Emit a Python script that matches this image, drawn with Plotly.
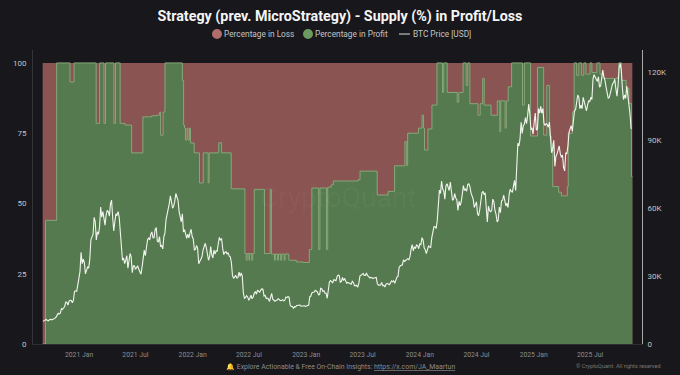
import pandas as pd
import plotly.graph_objects as go

profit_dates = ["2020-09-06","2020-09-15","2020-10-21","2020-12-03","2020-12-16","2021-02-25","2021-03-08","2021-03-22","2021-03-27","2021-04-23","2021-04-28","2021-05-13","2021-05-29","2021-06-19","2021-07-25","2021-08-22","2021-09-07","2021-09-17","2021-09-20","2021-09-28","2021-10-04","2021-11-29","2021-12-03","2021-12-06","2021-12-09","2021-12-14","2021-12-17","2021-12-22","2021-12-25","2022-01-06","2022-01-23","2022-02-04","2022-02-20","2022-02-23","2022-03-26","2022-04-04","2022-05-05","2022-06-18","2022-06-22","2022-06-25","2022-07-01","2022-07-03","2022-07-10","2022-07-13","2022-07-18","2022-08-20","2022-09-07","2022-09-11","2022-09-21","2022-09-24","2022-10-01","2022-10-04","2022-10-11","2022-10-14","2022-10-22","2022-10-25","2022-11-06","2022-11-30","2022-12-22","2023-01-11","2023-01-19","2023-02-10","2023-02-14","2023-03-07","2023-03-11","2023-03-22","2023-03-29","2023-06-17","2023-06-23","2023-08-17","2023-09-21","2023-10-12","2023-11-14","2023-11-20","2023-11-23","2023-12-28","2024-01-08","2024-01-13","2024-01-16","2024-01-27","2024-02-09","2024-02-25","2024-03-14","2024-03-18","2024-03-29","2024-04-30","2024-05-05","2024-05-19","2024-05-29","2024-06-03","2024-06-10","2024-07-06","2024-07-13","2024-07-21","2024-07-26","2024-08-17","2024-09-06","2024-09-14","2024-09-17","2024-10-01","2024-10-05","2024-10-11","2024-10-22","2024-11-26","2024-12-02","2024-12-22","2025-01-13","2025-02-02","2025-02-12","2025-02-21","2025-02-26","2025-03-03","2025-03-22","2025-03-31","2025-04-19","2025-04-22","2025-05-06","2025-05-11","2025-05-19","2025-05-26","2025-06-04","2025-06-11","2025-06-18","2025-07-01","2025-07-07","2025-07-23","2025-08-02","2025-08-12","2025-09-27","2025-10-01","2025-10-10","2025-10-25","2025-11-03","2025-11-11","2025-11-14"]
pct_profit = [0,44,100,93.2,100,78.5,100,78.5,100,78.5,100,78.5,77.9,68,80.8,81.2,81.4,82.5,74.3,82.5,100,93.8,77.9,76.8,72.6,76.8,72.6,76.8,71.5,68,57.3,68,57.3,68,71.6,68,55.2,32.2,29.8,32.2,29.8,32.2,29.8,32.2,55,32.2,55,32,29.8,32,29.8,32,29.8,32,29.8,32,29.8,29.2,29,33.6,55.5,33.6,55.5,33.6,55.8,56.6,58,58.5,61.5,53,54.3,63.4,72,63.5,75,76.8,81.4,76.8,69,76.5,85,100,89.5,100,89.5,86,89.5,100,92,100,85.5,81.4,85.5,94.5,85,81.4,86.5,75.5,86.5,76.8,86.5,91.5,100,85,100,74,98.4,74.3,92,74,71.5,56,54,52.7,56,75,82.6,100,95.6,100,95.6,100,96,100,96.6,100,96,94.5,95,100,93.8,91,85.6,59.6,59.6]
pct_loss = [100 - p for p in pct_profit]

# BTC price in thousand USD: weekly readings and the reading half a week after each
year_starts = ["2020-09-07","2021-01-04","2022-01-03","2023-01-02","2024-01-01","2025-01-06"]
weekly_k = [
 [10.0,10.7,10.4,10.7,10.7,11.4,11.9,13.6,13.6,15.3,16.7,18.4,19.0,19.2,19.4,23.5,26.3],
 [32.0,35.5,36.0,32.5,33.5,46.0,48.5,54.0,49.6,52.0,56.0,54.0,57.0,58.5,62.0,56.0,54.0,57.0,56.0,43.0,38.0,37.0,33.5,40.0,31.5,34.5,33.8,33.0,30.8,37.5,39.0,46.0,46.0,49.5,47.0,51.5,45.0,43.0,42.0,49.0,57.0,62.0,63.0,61.0,66.5,63.5,56.5,57.5,50.5,46.7,46.9,50.7],
 [46.4,41.8,42.3,36.7,38.5,43.8,42.6,37.0,43.0,38.0,39.7,41.0,47.1,46.6,39.5,40.8,40.4,38.5,30.3,29.8,29.1,31.8,31.4,22.5,20.6,20.7,20.2,20.0,22.4,22.0,23.3,23.8,24.1,21.5,20.3,18.8,22.4,19.5,19.2,20.0,19.1,19.6,19.3,20.5,20.6,16.6,15.8,16.4,17.0,17.2,16.8,16.9],
 [16.7,17.2,21.2,22.7,23.7,23.0,21.8,24.4,23.5,22.4,24.1,28.0,27.1,28.2,29.7,30.3,27.6,28.0,27.7,27.2,26.8,27.7,25.8,25.9,26.8,30.3,31.1,30.3,30.2,29.2,29.2,29.2,29.4,26.0,26.1,25.8,25.2,26.8,26.2,27.9,27.9,28.5,29.9,34.5,35.0,36.5,37.4,37.2,41.9,41.2,42.2,43.5],
 [44.2,47.0,42.5,39.9,43.3,42.7,49.9,51.8,54.5,68.0,72.0,67.5,70.0,69.7,71.6,63.5,66.5,63.8,63.1,62.8,70.0,68.5,70.5,69.5,65.0,60.3,62.8,56.7,64.8,67.5,66.8,53.9,59.0,59.0,62.9,57.3,54.8,58.0,63.5,63.3,62.2,66.0,67.4,69.9,67.8,88.7,90.5,93.0,97.2,97.4,106.0,94.7,92.7],
 [102.0,95.0,102.0,102.0,97.5,97.4,95.8,91.5,86.0,78.5,84.0,87.5,82.5,78.0,84.5,87.5,95.0,94.0,103.0,106.0,109.0,105.5,109.0,105.5,105.5,107.0,108.0,119.0,117.0,118.0,114.0,121.0,116.5,110.5,109.0,112.0,115.5,112.8,114.0,124.0,113.0,110.0,114.0,107.0,95.0],
]
midweek_k = [
 [10.3,10.9,10.2,10.9,10.9,11.3,13.0,13.3,15.6,15.9,18.6,17.2,19.3,18.2,23.3,23.3,29.3],
 [40.5,37.5,31.0,34.0,37.5,47.5,56.0,46.0,48.5,60.5,58.5,52.5,59.0,56.5,63.5,50.0,57.5,58.5,49.5,37.0,35.5,39.0,36.5,38.5,34.5,33.0,34.5,31.8,34.0,41.5,43.5,47.0,48.5,47.0,50.5,45.5,47.5,43.5,47.5,55.0,60.0,65.5,60.0,63.0,65.0,58.5,54.0,49.5,48.5,48.5,49.0,47.5],
 [41.6,43.5,35.5,37.5,41.5,44.5,40.0,38.5,39.5,41.5,41.2,44.5,45.8,42.3,40.5,39.7,38.8,36.0,29.0,30.3,29.3,29.9,30.0,20.2,21.3,19.3,21.6,20.8,23.2,23.8,22.9,24.4,21.2,20.1,19.9,21.4,19.8,18.9,19.4,19.5,19.2,19.1,20.7,21.0,17.1,16.6,16.5,17.0,17.2,16.7,16.8,16.6],
 [16.9,20.9,22.7,23.0,23.4,21.7,24.6,23.2,22.4,20.2,27.4,27.5,28.4,28.0,30.4,27.3,29.4,29.0,26.9,26.9,26.4,27.2,25.9,25.1,30.0,30.5,30.3,31.4,29.9,29.4,29.0,29.4,26.6,26.0,27.2,25.9,26.5,26.5,26.9,27.5,26.8,29.6,33.9,34.7,37.2,36.9,37.7,38.7,43.9,42.9,43.7,42.1],
 [43.9,46.0,41.6,41.8,42.9,47.0,51.9,51.0,62.0,66.5,68.5,64.0,70.8,67.8,67.1,64.0,64.5,59.0,61.2,66.2,67.9,67.5,70.8,66.8,64.0,61.5,57.5,59.2,66.7,66.0,61.5,60.9,58.5,64.0,59.0,53.9,60.5,63.2,65.8,61.0,60.3,68.4,67.0,72.3,76.5,87.5,98.0,96.5,100.0,101.0,101.5,95.5,98.0],
 [94.5,104.0,105.0,104.0,96.5,97.0,98.0,84.5,90.0,83.0,86.0,84.0,83.5,76.5,84.0,93.5,96.5,100.0,103.5,110.0,104.0,104.0,106.5,103.0,107.5,109.0,117.0,118.0,116.0,113.5,117.0,118.0,113.5,108.5,111.0,115.0,117.0,109.5,122.0,121.0,108.0,108.5,110.0,101.5],
]
price_dates, btc_price_k = [], []
for start, weeks, mids in zip(year_starts, weekly_k, midweek_k):
    day0 = pd.Timestamp(start)
    for i, w in enumerate(weeks):
        price_dates.append(day0 + pd.Timedelta(days=7 * i))
        btc_price_k.append(w)
        if i < len(mids):
            price_dates.append(day0 + pd.Timedelta(days=7 * i + 3.5))
            btc_price_k.append(mids[i])

date_ticks = ["2021-01-01","2021-07-01","2022-01-01","2022-07-01","2023-01-01","2023-07-01","2024-01-01","2024-07-01","2025-01-01","2025-07-01"]
date_labels = ["2021 Jan","2021 Jul","2022 Jan","2022 Jul","2023 Jan","2023 Jul","2024 Jan","2024 Jul","2025 Jan","2025 Jul"]
pct_ticks = [0,25,50,75,100]
price_ticks = [0,30,60,90,120]
price_labels = ["0","30K","60K","90K","120K"]
legend_names = ["Percentage in Loss", "Percentage in Profit", "BTC Price [USD]"]

BG = "#17171c"
RED = "#8a5453"
GREEN = "#567a50"
GREEN_EDGE = "#86a877"
FONT = "Roboto"
L, R, T, B = 33, 38, 50, 30.5
PW, PH = 680 - L - R, 375 - T - B
px = lambda v: (v - L) / PW
py = lambda v: (375 - B - v) / PH

fig = go.Figure()
fig.add_trace(go.Scatter(x=profit_dates, y=[p + l for p, l in zip(pct_profit, pct_loss)], mode="lines",
    line=dict(color=RED, width=0), fill="tozeroy", fillcolor=RED, showlegend=False, hoverinfo="skip"))
fig.add_trace(go.Scatter(x=profit_dates, y=pct_profit, mode="lines", line=dict(color=GREEN_EDGE, width=1, shape="hv"),
    fill="tozeroy", fillcolor=GREEN, showlegend=False, hoverinfo="skip"))
fig.add_trace(go.Scatter(x=price_dates, y=btc_price_k, yaxis="y2", mode="lines",
    line=dict(color="#f2f5ee", width=1.1), showlegend=False))

shapes = [
    dict(type="circle", xref="paper", yref="paper", x0=px(212), x1=px(222), y0=py(39), y1=py(29), fillcolor="#b06d6b", line_width=0),
    dict(type="circle", xref="paper", yref="paper", x0=px(303), x1=px(313), y0=py(39), y1=py(29), fillcolor="#6d9a60", line_width=0),
    dict(type="line", xref="paper", yref="paper", x0=px(399), x1=px(410), y0=py(34), y1=py(34), line=dict(color="#e0e0e0", width=1)),
]
ann = [
    dict(text=n, xref="paper", yref="paper", x=px(xp), y=py(34), xanchor="left", yanchor="middle", showarrow=False,
         font=dict(size=8.3, color="#c4c4c4"))
    for n, xp in zip(legend_names, [222, 313, 410.5])
]
ann += [
    dict(text="CryptoQuant", xref="paper", yref="paper", x=0.5, y=0.5, showarrow=False,
         font=dict(size=28, color="rgba(255,255,255,0.035)")),
    dict(text="🔔 <span style='color:#8c8c8c'>Explore Actionable &amp; Free On-Chain Insights: <u>https://x.com/JA_Maartun</u></span>",
         xref="paper", yref="paper", x=px(340), y=py(367), xanchor="center", yanchor="middle", showarrow=False,
         font=dict(size=6.9, color="#d8a93a")),
    dict(text="© CryptoQuant. All rights reserved", xref="paper", yref="paper", x=px(663), y=py(367),
         xanchor="right", yanchor="middle", showarrow=False, font=dict(size=5.6, color="#777777")),
]

fig.update_layout(
    width=680, height=375, autosize=False,
    margin=dict(l=L, r=R, t=T, b=B),
    paper_bgcolor=BG, plot_bgcolor=BG,
    font=dict(family=FONT, color="#c8c8c8", size=8),
    title=dict(text="<b>Strategy (prev. MicroStrategy) - Supply (%) in Profit/Loss</b>",
        x=0.5, xanchor="center", y=0.957, yanchor="middle", font=dict(size=14.3, color="#f5f5f5", family=FONT)),
    showlegend=False,
    shapes=shapes, annotations=ann,
    xaxis=dict(type="date", range=["2020-08-06","2025-12-15"], tickvals=date_ticks, ticktext=date_labels,
        showgrid=False, zeroline=False, showline=True, linecolor="#2c2c31", linewidth=1, ticks="",
        tickfont=dict(size=6.8, color="#8e8e8e"), ticklabelstandoff=4),
    yaxis=dict(range=[0,104.6], tickvals=pct_ticks, showgrid=False, zeroline=False, showline=True,
        linecolor="#33333a", linewidth=1, ticks="", tickfont=dict(size=8, color="#c4c4c4"), ticklabelstandoff=4),
    yaxis2=dict(overlaying="y", side="right", range=[0,129.9], tickvals=price_ticks, ticktext=price_labels,
        showgrid=False, zeroline=False, showline=True, linecolor="#a8a8a8", linewidth=1, ticks="",
        tickfont=dict(size=8, color="#c4c4c4"), ticklabelstandoff=3),
)
fig.write_html("out.html", config=dict(displayModeBar=False),
               post_script="document.body.style.margin='0';document.documentElement.style.overflow='hidden';")
